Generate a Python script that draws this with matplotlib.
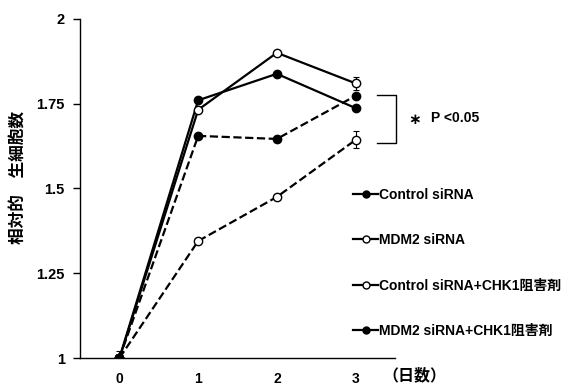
import matplotlib
matplotlib.use("Agg")
import matplotlib.pyplot as plt
from matplotlib.lines import Line2D

plt.rcParams["font.family"] = ["Liberation Sans", "Noto Sans CJK JP"]
plt.rcParams["font.weight"] = "bold"

days = [0, 1, 2, 3]
control = [1.0, 1.76, 1.838, 1.737]
mdm2 = [1.0, 1.732, 1.90, 1.81]
control_chk1 = [1.0, 1.345, 1.475, 1.643]
mdm2_chk1 = [1.0, 1.655, 1.646, 1.773]
control_err = [0.0, 0.0, 0.0, 0.0]
mdm2_err = [0.0, 0.0, 0.0, 0.02]
control_chk1_err = [0.02, 0.0, 0.0, 0.025]
mdm2_chk1_err = [0.0, 0.0, 0.0, 0.0]
labels = ["Control siRNA", "MDM2 siRNA",
          "Control siRNA+CHK1阻害剤", "MDM2 siRNA+CHK1阻害剤"]
yticks = [1, 1.25, 1.5, 1.75, 2]
ytick_labels = ["1", "1.25", "1.5", "1.75", "2"]

series = [
    (control, control_err, "-", "black"),
    (mdm2, mdm2_err, "-", "white"),
    (control_chk1, control_chk1_err, "--", "white"),
    (mdm2_chk1, mdm2_chk1_err, "--", "black"),
]

fig = plt.figure(figsize=(5.85, 3.85), dpi=100)
ax = fig.add_axes([0.137, 0.070, 0.538, 0.881])

handles = []
for (vals, err, ls, face), lab in zip(series, labels):
    ax.errorbar(days, vals, yerr=err, fmt="none", ecolor="black",
                elinewidth=0.8, capsize=2.5, capthick=0.8, zorder=2)
    ax.plot(days, vals, linestyle=ls, color="black", linewidth=1.6,
            marker="o", markersize=6, markerfacecolor=face,
            markeredgecolor="black", markeredgewidth=1.0, zorder=3)
    handles.append(Line2D([], [], linestyle="-", color="black", linewidth=1.6,
                          marker="o", markersize=5, markerfacecolor=face,
                          markeredgecolor="black", label=lab))

ax.set_xlim(-0.5, 3.5)
ax.set_ylim(1, 2)
ax.set_xticks(days)
ax.set_yticks(yticks)
ax.set_yticklabels(ytick_labels)
ax.tick_params(axis="x", length=0, pad=10, labelsize=10)
ax.tick_params(axis="y", length=5, width=1, labelsize=10.5, pad=6)
for side in ["top", "right"]:
    ax.spines[side].set_visible(False)
for side in ["left", "bottom"]:
    ax.spines[side].set_linewidth(1)

fig.text(17.5 / 585, 1 - 177.5 / 385, "相対的\u3000生細胞数", rotation=90,
         fontsize=12, fontweight="bold", ha="center", va="center")
fig.text(382 / 585, 1 - 375 / 385, "（日数）", fontsize=11.5,
         fontweight="bold", ha="left", va="center")

# significance bracket
fig.add_artist(Line2D([377 / 585, 396 / 585, 396 / 585, 377 / 585],
                      [1 - 95 / 385, 1 - 95 / 385, 1 - 143 / 385, 1 - 143 / 385],
                      color="black", linewidth=1.0))
fig.text(415 / 585, 1 - 119 / 385, "∗", fontsize=11, fontweight="bold",
         ha="center", va="center", family=["DejaVu Sans"])
fig.text(431 / 585, 1 - 118 / 385, "P <0.05", fontsize=10, fontweight="bold",
         ha="left", va="center")

fig.legend(handles=handles, loc="upper left",
           bbox_to_anchor=(0.604, 1 - 188 / 385), frameon=False,
           handlelength=1.8, handletextpad=0.05, labelspacing=2.25,
           borderaxespad=0, borderpad=0,
           prop={"size": 10, "weight": "bold"})

fig.savefig("out.png", dpi=100)
